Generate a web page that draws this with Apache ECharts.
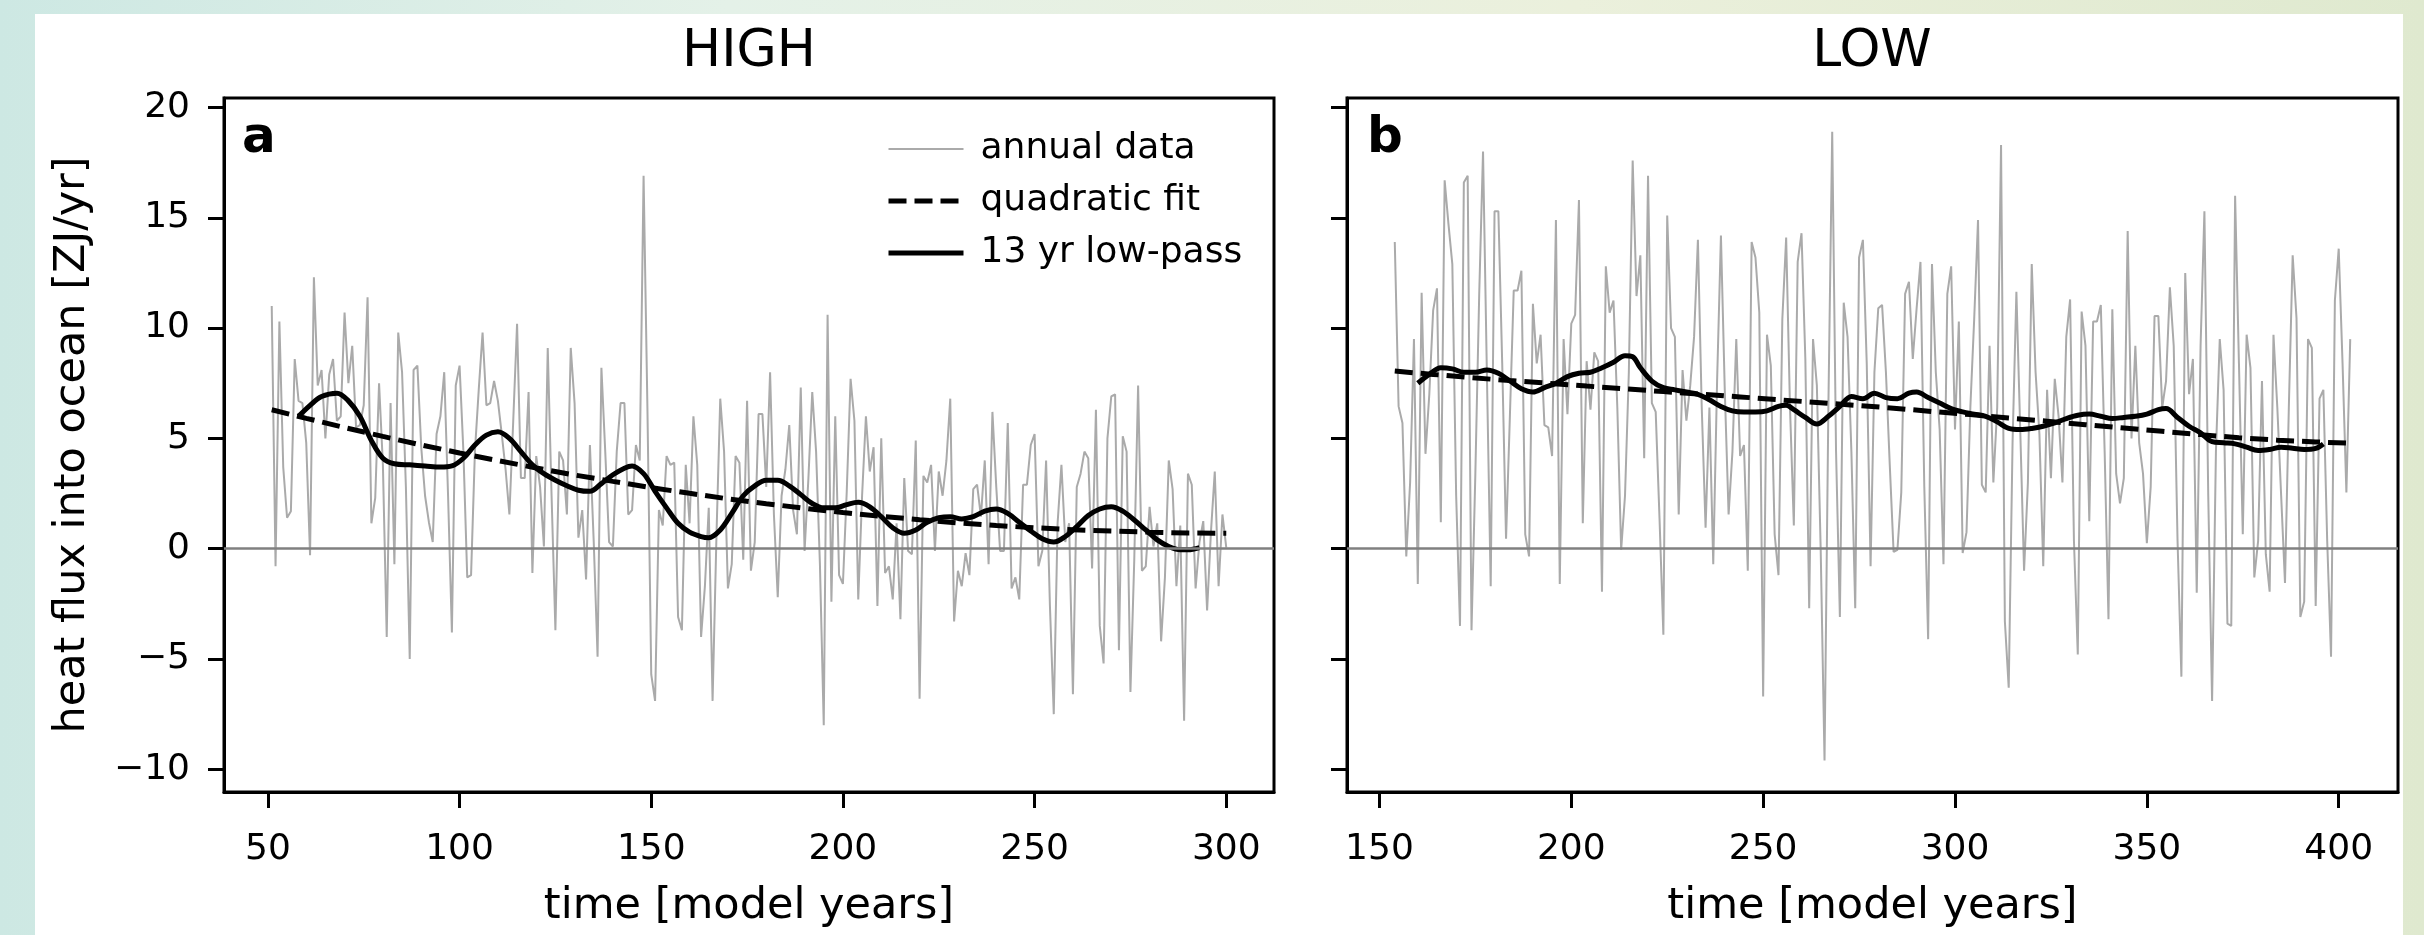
<!DOCTYPE html>
<html>
<head>
<meta charset="utf-8">
<title>heat flux into ocean</title>
<script src="https://cdn.jsdelivr.net/npm/echarts@6/dist/echarts.min.js"></script>
<style>
    html, body { margin: 0; padding: 0; }
    body {
        width: 2424px; height: 935px; overflow: hidden; position: relative;
        background: linear-gradient(90deg, #cde8e3 0%, #e4f1e8 30%, #ebf0dc 65%, #dfe9cf 100%);
    }
    #card { position: absolute; left: 35px; top: 14px; width: 2368px; height: 921px; background: #fff; }
    #chart { position: absolute; left: 0; top: 0; width: 2424px; height: 935px; }
</style>
</head>
<body>
<div id="card"></div>
<div id="chart"></div>

<script type="text/javascript">
    // tick values
    var yTicks = [-10, -5, 0, 5, 10, 15, 20];
    var xTicksHigh = [50, 100, 150, 200, 250, 300];
    var xTicksLow = [150, 200, 250, 300, 350, 400];

    // HIGH run, annual data, one value per model year from year 51
    var highStartYear = 51;
    var highAnnual = [
        11.0, -0.8, 10.3, 3.7, 1.4, 1.7, 8.6, 6.7, 6.6, 4.8,
        -0.3, 12.3, 7.4, 8.1, 5.0, 7.9, 8.6, 5.8, 6.0, 10.7,
        7.5, 9.2, 5.5, 5.6, 6.5, 11.4, 1.15, 2.3, 7.5, 3.8,
        -4.0, 6.6, -0.7, 9.8, 8.0, 2.8, -5.0, 8.1, 8.3, 4.6,
        2.4, 1.2, 0.3, 5.2, 6.0, 8.0, 2.4, -3.8, 7.4, 8.3,
        4.4, -1.3, -1.2, 4.4, 7.2, 9.8, 6.5, 6.6, 7.6, 6.7,
        5.2, 3.6, 1.55, 5.8, 10.2, 3.2, 3.2, 7.1, -1.1, 4.2,
        2.8, 0.1, 9.1, 2.4, -3.7, 4.4, 4.0, 1.55, 9.1, 6.6,
        0.5, 1.75, -1.4, 4.7, 0.3, -4.9, 8.2, 4.4, 0.3, 0.1,
        4.4, 6.6, 6.6, 1.55, 1.75, 4.7, 4.0, 16.9, 6.4, -5.7,
        -6.9, 1.75, 1.05, 4.2, 3.8, 3.9, -3.1, -3.7, 3.8, 1.15,
        6.0, 3.8, -4.0, -1.7, 1.85, -6.9, 0.5, 6.8, 4.4, -1.8,
        -0.7, 4.2, 3.9, -0.5, 6.7, -1.0, 0.3, 6.1, 6.1, 2.8,
        8.0, 1.55, -2.2, 2.4, 3.6, 5.6, 1.75, 0.65, 7.3, -0.1,
        3.2, 7.1, 4.4, -0.7, -8.0, 10.6, -2.4, 6.0, -1.2, -1.6,
        2.6, 7.7, 5.8, -2.3, 2.4, 6.0, 3.5, 4.6, -2.6, 5.0,
        -1.1, -0.8, -2.3, 1.15, -3.2, 3.2, -0.1, -0.25, 4.9, -6.8,
        3.3, 3.0, 3.8, -0.1, 3.5, 2.4, 4.0, 6.8, -3.3, -1.0,
        -1.7, -0.2, -1.2, 2.7, 2.9, 1.45, 4.0, -0.7, 6.2, 2.8,
        -0.1, -0.1, 5.7, -1.8, -1.3, -2.3, 2.9, 2.9, 4.7, 5.2,
        -0.8, -0.1, 4.0, -2.6, -7.5, 1.15, 3.8, 0.3, 1.15, -6.6,
        2.8, 3.4, 4.4, 4.1, -0.9, 6.3, -3.5, -5.2, 5.0, 6.9,
        7.0, -4.6, 5.1, 4.4, -6.5, -0.5, 7.4, -1.0, -0.8, 1.9,
        0.1, 1.15, -4.2, -1.3, 4.0, 2.7, -1.7, 1.05, -7.8, 3.4,
        2.9, -1.8, 0.3, 1.25, -2.8, 0.75, 3.5, -1.7, 1.55, 0.05
    ];
    var highQuadFit = [
        [51, 6.3], [60, 5.91], [70, 5.49], [80, 5.09], [90, 4.7], [100, 4.34], [110, 3.99],
        [120, 3.66], [130, 3.34], [140, 3.05], [150, 2.77], [160, 2.51], [170, 2.26], [180, 2.04],
        [190, 1.83], [200, 1.64], [210, 1.47], [220, 1.31], [230, 1.17], [240, 1.05], [250, 0.95],
        [260, 0.86], [270, 0.8], [280, 0.75], [290, 0.71], [300, 0.7]
    ];
    var highLowPass = [
        [58, 6.0], [61, 6.5], [64, 6.9], [68, 7.05], [71, 6.7], [74, 6.0], [77, 4.9], [80, 4.1],
        [83, 3.85], [87, 3.8], [91, 3.75], [95, 3.7], [98, 3.75], [101, 4.1], [104, 4.7], [107, 5.15],
        [110, 5.3], [113, 5.0], [116, 4.4], [119, 3.8], [122, 3.4], [125, 3.1], [128, 2.85], [131, 2.65],
        [134, 2.6], [137, 2.95], [140, 3.35], [143, 3.65], [145, 3.75], [148, 3.4], [151, 2.6], [154, 1.85],
        [157, 1.15], [160, 0.75], [163, 0.55], [165, 0.5], [168, 0.85], [171, 1.6], [174, 2.4], [177, 2.85],
        [180, 3.1], [183, 3.1], [186, 2.85], [189, 2.45], [192, 2.05], [195, 1.85], [198, 1.85], [201, 2.0],
        [204, 2.1], [207, 1.9], [210, 1.45], [213, 0.95], [216, 0.7], [219, 0.85], [222, 1.2], [225, 1.4],
        [228, 1.45], [231, 1.35], [234, 1.45], [237, 1.7], [240, 1.8], [243, 1.6], [246, 1.2], [249, 0.8],
        [252, 0.45], [255, 0.3], [258, 0.55], [261, 1.0], [264, 1.5], [267, 1.8], [270, 1.9], [273, 1.7],
        [276, 1.3], [279, 0.85], [282, 0.4], [285, 0.1], [288, -0.05], [290, -0.05], [293, 0.05]
    ];

    // LOW run, annual data, one value per model year from year 154
    var lowStartYear = 154;
    var lowAnnual = [
        13.9, 6.45, 5.7, -0.35, 3.0, 9.5, -1.6, 11.6, 4.3, 7.0,
        10.8, 11.8, 1.2, 16.7, 14.7, 12.9, 2.4, -3.5, 16.6, 16.9,
        -3.7, 3.4, 11.5, 18.0, 8.0, -1.7, 15.3, 15.3, 8.4, 0.45,
        6.0, 11.7, 11.7, 12.6, 0.65, -0.35, 11.1, 8.4, 9.7, 5.6,
        5.5, 4.2, 14.9, -1.6, 9.5, 6.1, 10.2, 10.6, 15.8, 1.15,
        8.5, 6.3, 8.9, 8.5, -1.95, 12.8, 10.7, 11.25, 6.4, -0.05,
        2.4, 8.0, 17.6, 11.45, 13.3, 4.1, 16.9, 6.6, 6.2, 1.35,
        -3.9, 15.1, 10.0, 9.6, 1.55, 8.1, 5.8, 7.4, 9.6, 14.0,
        6.4, 0.95, 6.4, -0.7, 7.6, 14.2, 7.2, 1.55, 4.4, 9.5,
        4.2, 4.7, -1.0, 13.9, 13.2, 10.7, -6.7, 9.7, 8.3, 0.65,
        -1.2, 10.4, 14.1, 6.4, 1.05, 13.0, 14.3, 8.6, -2.7, 9.5,
        7.4, -0.05, -9.6, 6.4, 18.9, 4.4, -3.1, 11.15, 9.6, 4.4,
        -2.7, 13.2, 14.0, 8.4, -0.8, 8.0, 10.9, 11.05, 8.0, 3.8,
        -0.15, -0.05, 2.55, 11.55, 12.1, 8.6, 10.9, 13.0, 2.8, -4.1,
        12.9, 8.0, 5.4, -0.7, 11.55, 12.8, 5.4, 10.3, -0.2, 0.75,
        6.4, 10.4, 14.9, 2.9, 2.55, 9.2, 3.0, 6.4, 18.3, -3.3,
        -6.3, 4.8, 11.65, 5.4, -1.0, 3.0, 12.9, 8.0, 5.2, -0.8,
        7.2, 3.2, 7.7, 6.0, 3.0, 9.6, 11.3, 0.35, -4.8, 10.75,
        9.2, 1.25, 10.3, 10.3, 11.05, 4.4, -3.2, 10.85, 3.4, 2.05,
        3.2, 14.4, 5.0, 9.2, 4.8, 3.4, 0.25, 2.8, 10.55, 10.55,
        6.4, 7.6, 11.85, 9.2, 0.35, -5.8, 12.5, 7.0, 8.6, -2.0,
        9.2, 15.3, 2.4, -6.9, 4.4, 9.5, 7.2, -3.4, -3.5, 16.0,
        8.4, 0.65, 9.7, 8.2, -1.3, 0.35, 7.6, -0.25, -1.95, 9.7,
        6.4, 2.4, -1.55, 6.4, 13.3, 10.45, -3.1, -2.4, 9.5, 9.1,
        -2.6, 6.8, 7.2, 0.35, -4.9, 11.25, 13.6, 8.4, 2.55, 9.5
    ];
    var lowQuadFit = [
        [154, 8.05], [164, 7.9], [174, 7.75], [184, 7.62], [194, 7.5], [204, 7.37], [214, 7.25],
        [224, 7.12], [234, 7.0], [244, 6.88], [254, 6.75], [264, 6.63], [274, 6.5], [284, 6.37],
        [294, 6.22], [304, 6.08], [314, 5.92], [324, 5.78], [334, 5.62], [344, 5.47], [354, 5.32],
        [364, 5.17], [374, 5.03], [384, 4.92], [394, 4.84], [403, 4.78]
    ];
    var lowLowPass = [
        [160, 7.5], [163, 7.9], [166, 8.2], [169, 8.15], [172, 8.0], [175, 8.0], [178, 8.1], [181, 7.95],
        [184, 7.6], [187, 7.25], [190, 7.1], [193, 7.3], [196, 7.5], [199, 7.8], [202, 7.95], [205, 8.0],
        [208, 8.2], [211, 8.45], [214, 8.75], [216, 8.7], [218, 8.2], [221, 7.6], [224, 7.3], [227, 7.2],
        [230, 7.1], [233, 7.0], [236, 6.75], [239, 6.45], [242, 6.25], [245, 6.2], [248, 6.2], [251, 6.25],
        [254, 6.45], [256, 6.5], [258, 6.3], [261, 5.95], [264, 5.65], [267, 6.0], [270, 6.45], [273, 6.9],
        [276, 6.8], [279, 7.05], [282, 6.85], [285, 6.8], [288, 7.05], [290, 7.1], [293, 6.85], [296, 6.6],
        [299, 6.35], [302, 6.2], [305, 6.1], [308, 6.0], [311, 5.75], [314, 5.45], [317, 5.4], [320, 5.45],
        [323, 5.55], [326, 5.7], [329, 5.9], [332, 6.05], [335, 6.1], [338, 6.0], [341, 5.9], [344, 5.95],
        [347, 6.0], [350, 6.1], [353, 6.3], [355, 6.35], [358, 5.95], [361, 5.55], [364, 5.25], [367, 4.85],
        [370, 4.8], [373, 4.75], [376, 4.6], [379, 4.45], [382, 4.5], [385, 4.6], [388, 4.55], [391, 4.5],
        [394, 4.55], [396, 4.75]
    ];

    var FONT = "'DejaVu Sans', sans-serif";
    var GRAY = '#aaaaaa';

    function withYears(start, values) {
        var out = [];
        for (var i = 0; i < values.length; i++) {
            out.push([start + i, values[i]]);
        }
        return out;
    }

    // matplotlib style minus sign
    function tickText(v) {
        return String(v).replace('-', '\u2212');
    }

    function xAxisFor(idx, min, max, ticks) {
        return {
            type: 'value', gridIndex: idx, min: min, max: max,
            name: 'time [model years]', nameLocation: 'middle', nameGap: 93,
            nameTextStyle: { fontFamily: FONT, fontSize: 43, color: '#000' },
            axisLine: { show: true, onZero: false, lineStyle: { color: '#000', width: 3 } },
            axisTick: { show: true, length: 16, customValues: ticks, lineStyle: { color: '#000', width: 3 } },
            axisLabel: { customValues: ticks, margin: 40, fontFamily: FONT, fontSize: 36, color: '#000', formatter: tickText },
            splitLine: { show: false }
        };
    }

    function yAxisFor(idx, withLabels) {
        var axis = {
            type: 'value', gridIndex: idx, min: -11.03, max: 20.43,
            axisLine: { show: true, onZero: false, lineStyle: { color: '#000', width: 3 } },
            axisTick: { show: true, length: 16, customValues: yTicks, lineStyle: { color: '#000', width: 3 } },
            axisLabel: { show: withLabels, customValues: yTicks, margin: 34, fontFamily: FONT, fontSize: 36, color: '#000', formatter: tickText },
            splitLine: { show: false }
        };
        if (withLabels) {
            axis.name = 'heat flux into ocean [ZJ/yr]';
            axis.nameLocation = 'middle';
            axis.nameGap = 130;
            axis.nameTextStyle = { fontFamily: FONT, fontSize: 43, color: '#000' };
        }
        return axis;
    }

    function panelSeries(idx, annual, quad, lowpass) {
        return [
            {
                name: 'annual data', type: 'line', xAxisIndex: idx, yAxisIndex: idx,
                data: annual, symbol: 'none', z: 2,
                lineStyle: { color: GRAY, width: 2 },
                markLine: {
                    silent: true, symbol: ['none', 'none'], label: { show: false },
                    lineStyle: { color: '#808080', width: 2.5, type: 'solid' },
                    data: [{ yAxis: 0 }]
                }
            },
            {
                name: 'quadratic fit', type: 'line', xAxisIndex: idx, yAxisIndex: idx,
                data: quad, symbol: 'none', z: 3,
                lineStyle: { color: '#000', width: 5, type: [18, 8] }
            },
            {
                name: '13 yr low-pass', type: 'line', xAxisIndex: idx, yAxisIndex: idx,
                data: lowpass, symbol: 'none', smooth: 0.35, z: 4,
                lineStyle: { color: '#000', width: 5 }
            }
        ];
    }

    var chart = echarts.init(document.getElementById('chart'), null, { renderer: 'canvas' });

    var option = {
        animation: false,
        backgroundColor: 'transparent',
        title: [
            { text: 'HIGH', left: 749, top: 26, textAlign: 'center', padding: 0,
              textStyle: { fontFamily: FONT, fontSize: 52, fontWeight: 'normal', color: '#000' } },
            { text: 'LOW', left: 1872, top: 26, textAlign: 'center', padding: 0,
              textStyle: { fontFamily: FONT, fontSize: 52, fontWeight: 'normal', color: '#000' } },
            { text: 'a', left: 242, top: 114, padding: 0,
              textStyle: { fontFamily: FONT, fontSize: 50, fontWeight: 'bold', color: '#000' } },
            { text: 'b', left: 1367, top: 114, padding: 0,
              textStyle: { fontFamily: FONT, fontSize: 50, fontWeight: 'bold', color: '#000' } }
        ],
        legend: {
            orient: 'vertical', left: 886, top: 131, padding: 0,
            itemWidth: 75, itemHeight: 20, itemGap: 16,
            selectedMode: false,
            itemStyle: { opacity: 0 },
            textStyle: { fontFamily: FONT, fontSize: 36, lineHeight: 36, color: '#000', padding: [0, 0, 0, 12] },
            data: [
                { name: 'annual data', lineStyle: { color: GRAY, width: 2, type: 'solid' } },
                { name: 'quadratic fit', lineStyle: { color: '#000', width: 5, type: [18, 8] } },
                { name: '13 yr low-pass', lineStyle: { color: '#000', width: 5, type: 'solid' } }
            ]
        },
        grid: [
            { left: 224, top: 98, width: 1050, height: 694, show: true, borderColor: '#000', borderWidth: 3, backgroundColor: '#fff' },
            { left: 1347, top: 98, width: 1051, height: 694, show: true, borderColor: '#000', borderWidth: 3, backgroundColor: '#fff' }
        ],
        xAxis: [
            xAxisFor(0, 38.55, 312.45, xTicksHigh),
            xAxisFor(1, 141.55, 415.45, xTicksLow)
        ],
        yAxis: [
            yAxisFor(0, true),
            yAxisFor(1, false)
        ],
        series: panelSeries(0, withYears(highStartYear, highAnnual), highQuadFit, highLowPass)
            .concat(panelSeries(1, withYears(lowStartYear, lowAnnual), lowQuadFit, lowLowPass))
    };

    chart.setOption(option);
</script>
</body>
</html>
